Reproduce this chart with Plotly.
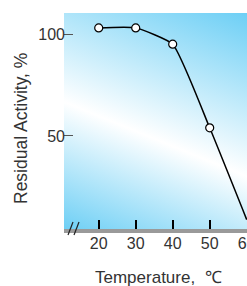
import base64
import plotly.graph_objects as go

# ---- data ----
temperature = [20, 30, 40, 50, 60]
residual_activity = [103, 103, 95, 54, 9]
x_tick_values = [20, 30, 40, 50, 60]
x_tick_labels = ["20", "30", "40", "50", "60"]
y_tick_values = [50, 100]
y_tick_labels = ["50", "100"]
axis_origin_label = "0"
x_title = "Temperature,  ℃"
y_title = "Residual Activity, %"

# ---- layout geometry (page pixels) ----
W, H = 247, 286
P_LEFT, P_TOP, P_RIGHT, P_BOTTOM = 64, 13, 247, 229
L, T, R, B = P_LEFT, P_TOP, W - P_RIGHT, H - P_BOTTOM
PW, PH = W - L - R, H - T - B
FONT = "Liberation Sans, Arial, sans-serif"
TXT = "#333333"


def px_x(p):
    return (p - P_LEFT) / PW


def px_y(p):
    return (P_BOTTOM - p) / PH


svg = (
    f'<svg xmlns="http://www.w3.org/2000/svg" width="{PW}" height="{PH}" '
    f'viewBox="0 0 {PW} {PH}" preserveAspectRatio="none">'
    '<defs><linearGradient id="g" gradientUnits="userSpaceOnUse" '
    'x1="148" y1="-14" x2="46" y2="236">'
    '<stop offset="0" stop-color="#6dcff5"/>'
    '<stop offset="0.56" stop-color="#ffffff"/>'
    '<stop offset="1" stop-color="#6dcff5"/>'
    '</linearGradient></defs>'
    f'<rect width="{PW}" height="{PH}" fill="url(#g)"/></svg>'
)
bg_src = "data:image/svg+xml;base64," + base64.b64encode(svg.encode()).decode()

fig = go.Figure()
fig.add_trace(go.Scatter(
    x=temperature, y=residual_activity, mode="lines",
    line=dict(shape="spline", smoothing=0.45, color="black", width=1.5),
    hoverinfo="skip", showlegend=False,
))
# the marker of the last point lies beyond the cropped frame in the reference
fig.add_trace(go.Scatter(
    x=temperature[:-1], y=residual_activity[:-1], mode="markers",
    marker=dict(size=8, color="white", line=dict(color="black", width=1.2)),
    showlegend=False,
))

fig.update_layout(
    width=W, height=H,
    margin=dict(l=L, r=R, t=T, b=B, pad=0, autoexpand=False),
    paper_bgcolor="white", plot_bgcolor="rgba(0,0,0,0)",
    font=dict(family=FONT, size=16, color=TXT),
    images=[dict(source=bg_src, xref="paper", yref="paper", x=0, y=1,
                 sizex=1, sizey=1, xanchor="left", yanchor="top",
                 sizing="stretch", layer="below")],
    xaxis=dict(range=[10.62, 60.08], tickvals=x_tick_values, ticktext=x_tick_labels,
               ticks="inside", ticklen=9, tickwidth=1.5, tickcolor="black",
               ticklabeloverflow="allow", ticklabelstandoff=-3, automargin=False,
               showline=True, linewidth=4, linecolor="#9a9a9a",
               showgrid=False, zeroline=False, fixedrange=True),
    yaxis=dict(range=[4.4, 110.3], tickvals=y_tick_values, ticktext=y_tick_labels,
               ticks="inside", ticklen=9, tickwidth=1.2, tickcolor="#555555",
               ticklabelstandoff=-2, automargin=False,
               showline=False, showgrid=False, zeroline=False, fixedrange=True),
    annotations=[
        dict(text=axis_origin_label, xref="x", yref="paper", x=10.1, y=px_y(243),
             xanchor="center", yanchor="middle", showarrow=False,
             font=dict(family=FONT, size=16, color=TXT)),
        dict(text=x_title, xref="paper", yref="paper", x=px_x(158), y=px_y(277),
             xanchor="center", yanchor="middle", showarrow=False,
             font=dict(family=FONT, size=17, color=TXT)),
        dict(text=y_title, xref="paper", yref="paper", x=px_x(21), y=px_y(129),
             xanchor="center", yanchor="middle", showarrow=False, textangle=-90,
             font=dict(family=FONT, size=17.5, color=TXT)),
    ],
    shapes=[
        dict(type="line", xref="paper", yref="paper", x0=px_x(68), y0=px_y(235),
             x1=px_x(73), y1=px_y(222), line=dict(color="#222222", width=1.2)),
        dict(type="line", xref="paper", yref="paper", x0=px_x(74), y0=px_y(235),
             x1=px_x(79), y1=px_y(222), line=dict(color="#222222", width=1.2)),
    ],
)

fig.write_html(
    "out.html",
    config=dict(displayModeBar=False),
    post_script="document.body.style.margin='0';document.body.style.overflow='hidden';",
)
